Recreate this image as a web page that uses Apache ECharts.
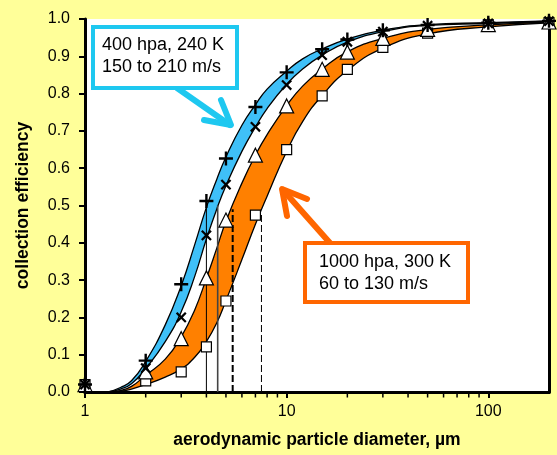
<!DOCTYPE html>
<html>
<head>
<meta charset="utf-8">
<script src="https://cdn.jsdelivr.net/npm/echarts@6/dist/echarts.min.js"></script>
<style>
  html, body { margin: 0; padding: 0; background: #ffff99; }
  #chart { width: 557px; height: 455px; }
</style>
</head>
<body>
<div id="chart"></div>
<script>
// fitted curves at these diameters (µm)
var curveX      = [1.3, 1.5, 1.7, 2, 2.5, 3, 3.5, 4, 4.5, 5, 6, 7, 8, 10, 12, 15, 20, 30, 50, 100, 200];
var plusCurve   = [0, 0.012, 0.03, 0.082, 0.18, 0.285, 0.395, 0.495, 0.57, 0.63, 0.715, 0.77, 0.812, 0.86, 0.893, 0.92, 0.946, 0.97, 0.985, 0.99, 0.995];
var crossCurve  = [0, 0.008, 0.022, 0.063, 0.135, 0.215, 0.31, 0.41, 0.49, 0.553, 0.645, 0.71, 0.76, 0.825, 0.866, 0.903, 0.938, 0.966, 0.983, 0.988, 0.994];
var triCurve    = [0, 0.004, 0.015, 0.045, 0.088, 0.148, 0.22, 0.305, 0.385, 0.458, 0.56, 0.635, 0.69, 0.768, 0.82, 0.866, 0.912, 0.948, 0.972, 0.984, 0.992];
var squareCurve = [0, 0.002, 0.008, 0.02, 0.04, 0.062, 0.093, 0.135, 0.185, 0.245, 0.355, 0.45, 0.525, 0.645, 0.725, 0.795, 0.862, 0.922, 0.96, 0.979, 0.99];

// measured points
var markerX = [1, 2, 3, 4, 5, 7, 10, 15, 20, 30, 50, 100, 200];
var plusY   = [0.02, 0.084, 0.289, 0.512, 0.626, 0.764, 0.857, 0.919, 0.945, 0.970, 0.984, 0.99, 0.995];
var crossY  = [0.02, 0.064, 0.200, 0.420, 0.556, 0.711, 0.823, 0.903, 0.939, 0.966, 0.982, 0.988, 0.994];
var triY    = [0.02, 0.054, 0.143, 0.306, 0.461, 0.635, 0.767, 0.865, 0.911, 0.948, 0.972, 0.985, 0.992];
var squareY = [0.02, 0.030, 0.054, 0.121, 0.244, 0.474, 0.650, 0.794, 0.865, 0.924, 0.962, 0.984, 0.99];

// 50% cut diameters and how high each guide line goes
var d50X   = [4.0, 4.55, 5.4, 7.5];
var d50Top = [0.51, 0.50, 0.49, 0.48];

var minorTickX = [2, 3, 4, 5, 6, 7, 8, 9, 20, 30, 40, 50, 60, 70, 80, 90];

var FONT = '"Liberation Sans", Arial, sans-serif';
var plusPath = 'path://M5.8,0H8.2V5.8H14V8.2H8.2V14H5.8V8.2H0V5.8H5.8Z';

function pairs(xs, ys) {
  return xs.map(function (x, i) { return [x, ys[i]]; });
}

// bands: each curve fills down to 0, upper curves first, so the
// white fill of the next curve cuts the band off underneath
function curve(ys, fill) {
  return {
    type: 'line', data: pairs(curveX, ys), showSymbol: false,
    smooth: 0.5,
    lineStyle: { color: '#000', width: 1.3 },
    areaStyle: { color: fill, opacity: 1, origin: 'start' },
    z: 2
  };
}

var series = [
  curve(plusCurve, '#3fc0f8'),
  curve(crossCurve, '#ffffff'),
  curve(triCurve, '#ff8000'),
  curve(squareCurve, '#ffffff')
];

// vertical d50 guides
var guideStyles = [
  { color: '#000', width: 1, type: 'solid' },
  { color: '#444', width: 1.6, type: 'solid' },
  { color: '#000', width: 2, type: [7, 3] },
  { color: '#000', width: 1, type: [7, 3] }
];
d50X.forEach(function (x, i) {
  series.push({
    type: 'line', data: [[x, 0], [x, d50Top[i]]], showSymbol: false,
    lineStyle: guideStyles[i], z: 11
  });
});

var openMarker = { color: '#fff', borderColor: '#000', borderWidth: 1.2, opacity: 1 };
series.push(
  { type: 'scatter', data: pairs(markerX, squareY), symbol: 'rect', symbolSize: 10, clip: false,
    itemStyle: openMarker, z: 12 },
  { type: 'scatter', data: pairs(markerX, triY), symbol: 'triangle', symbolSize: 14, clip: false,
    itemStyle: openMarker, z: 12 },
  { type: 'scatter', data: pairs(markerX, crossY), symbol: plusPath, symbolRotate: 45, symbolSize: 13, clip: false,
    itemStyle: { color: '#000', opacity: 1 }, z: 12 },
  { type: 'scatter', data: pairs(markerX, plusY), symbol: plusPath, symbolSize: 14, clip: false,
    itemStyle: { color: '#000', opacity: 1 }, z: 12 },
  // minor ticks of the log axis
  { type: 'scatter', data: minorTickX.map(function (x) { return [x, 0]; }), symbol: 'rect', symbolSize: [1.5, 4],
    symbolOffset: [0, 3.5], clip: false, itemStyle: { color: '#000', opacity: 1 }, silent: true, z: 11 }
);

var frameLine = { show: true, lineStyle: { color: '#000', width: 3 } };

var option = {
  backgroundColor: '#ffff99',
  animation: false,
  grid: { left: 85, right: 8, top: 19, bottom: 63, show: true, backgroundColor: '#fff', borderWidth: 0 },
  xAxis: [{
    type: 'log', logBase: 10, min: 1, max: 200, z: 10,
    name: 'aerodynamic particle diameter, µm', nameLocation: 'middle', nameGap: 39,
    nameTextStyle: { fontFamily: FONT, fontSize: 17.5, fontWeight: 'bold', color: '#000' },
    axisLine: frameLine,
    axisTick: { inside: false, length: 6, lineStyle: { color: '#000', width: 2 } },
    axisLabel: {
      margin: 12, fontFamily: FONT, fontSize: 16, color: '#000', showMaxLabel: false,
      formatter: function (v) { return (v === 1 || v === 10 || v === 100) ? String(v) : ''; }
    },
    splitLine: { show: false }
  }, {
    type: 'log', logBase: 10, min: 1, max: 200, position: 'top', z: 10,
    axisLine: frameLine, axisTick: { show: false }, axisLabel: { show: false }, splitLine: { show: false }
  }],
  yAxis: [{
    type: 'value', min: 0, max: 1, interval: 0.1, z: 10,
    name: 'collection efficiency', nameLocation: 'middle', nameGap: 53,
    nameTextStyle: { fontFamily: FONT, fontSize: 17.5, fontWeight: 'bold', color: '#000' },
    axisLine: frameLine,
    axisTick: { show: true, inside: false, length: 6, lineStyle: { color: '#000', width: 2 } },
    axisLabel: { margin: 15, fontFamily: FONT, fontSize: 16, color: '#000',
      formatter: function (v) { return v.toFixed(1); } },
    splitLine: { show: false }
  }, {
    type: 'value', min: 0, max: 1, position: 'right', z: 10,
    axisLine: frameLine, axisTick: { show: false }, axisLabel: { show: false }, splitLine: { show: false }
  }],
  series: series,
  graphic: [
    // blue note + arrow
    { type: 'polyline', shape: { points: [[177, 88], [230, 125]] }, z: 20,
      style: { stroke: '#1ec8f0', lineWidth: 6, lineCap: 'round', fill: null } },
    { type: 'polyline', shape: { points: [[204, 120], [231, 125], [221, 100]] }, z: 20,
      style: { stroke: '#1ec8f0', lineWidth: 6, lineCap: 'round', lineJoin: 'round', fill: null } },
    { type: 'rect', shape: { x: 93, y: 27, width: 144, height: 61 }, z: 21,
      style: { fill: '#fff', stroke: '#1ec8f0', lineWidth: 4 } },
    { type: 'text', x: 102, y: 34, z: 22,
      style: { text: '400 hpa, 240 K\n150 to 210 m/s', font: '18px ' + FONT, lineHeight: 22, fill: '#000' } },
    // orange note + arrow
    { type: 'polyline', shape: { points: [[330, 243], [283, 190]] }, z: 20,
      style: { stroke: '#ff6600', lineWidth: 6, lineCap: 'round', fill: null } },
    { type: 'polyline', shape: { points: [[307, 199], [282, 189], [287, 216]] }, z: 20,
      style: { stroke: '#ff6600', lineWidth: 6, lineCap: 'round', lineJoin: 'round', fill: null } },
    { type: 'rect', shape: { x: 305, y: 243, width: 163, height: 59 }, z: 21,
      style: { fill: '#fff', stroke: '#ff6600', lineWidth: 4 } },
    { type: 'text', x: 319, y: 251, z: 22,
      style: { text: '1000 hpa, 300 K\n60 to 130 m/s', font: '18px ' + FONT, lineHeight: 22, fill: '#000' } }
  ]
};

var myChart = echarts.init(document.getElementById('chart'));
myChart.setOption(option);
</script>
</body>
</html>
